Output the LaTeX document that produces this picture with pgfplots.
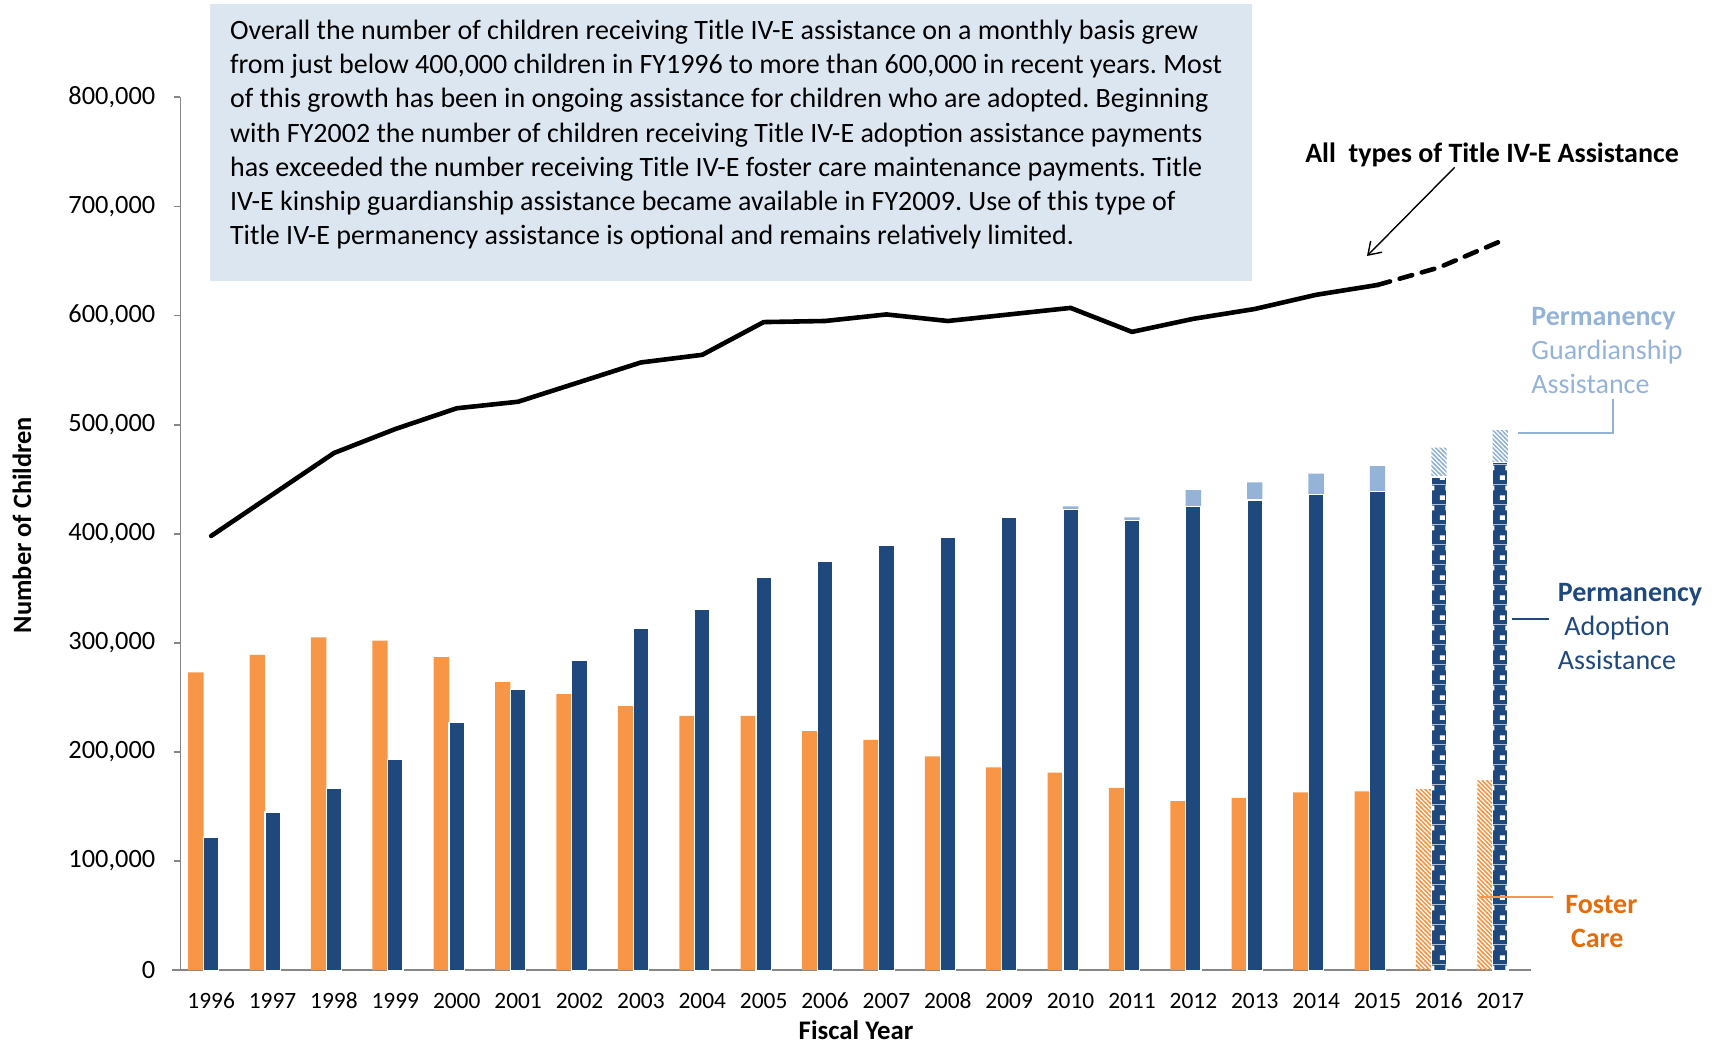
\documentclass[border=0pt]{standalone}
\usepackage{pgfplots}
\pgfplotsset{compat=1.18}
\usepackage{pgfplotstable}
\usepackage{fontspec}
\setmainfont{Carlito}
\frenchspacing
\usetikzlibrary{patterns,arrows.meta}
\definecolor{cOrange}{HTML}{F79646}
\definecolor{cOrangeTxt}{HTML}{E46C0A}
\definecolor{cDark}{HTML}{1F497D}
\definecolor{cLight}{HTML}{95B3D7}
\definecolor{cBox}{HTML}{DCE6F1}
\definecolor{cGray}{HTML}{868686}
% brick-like pattern of the projected adoption bars (tile width = bar width)
\pgfdeclarepatternformonly{adoptbricks}{\pgfqpoint{0pt}{0pt}}{\pgfqpoint{7.675pt}{10.1pt}}{\pgfqpoint{7.675pt}{10.1pt}}{%
  \pgfpathrectangle{\pgfqpoint{1.8pt}{7.6pt}}{\pgfqpoint{2.0pt}{2.5pt}}%
  \pgfpathrectangle{\pgfqpoint{6.6pt}{2.7pt}}{\pgfqpoint{1.075pt}{2.3pt}}%
  \pgfpathrectangle{\pgfqpoint{0pt}{2.7pt}}{\pgfqpoint{1.5pt}{2.3pt}}%
  \pgfpathrectangle{\pgfqpoint{0pt}{0pt}}{\pgfqpoint{7.675pt}{0.35pt}}%
  \pgfusepath{fill}}
\pgfdeclarepatternformonly{nwdense}{\pgfqpoint{-1pt}{-1pt}}{\pgfqpoint{3.2pt}{3.2pt}}{\pgfqpoint{2.2pt}{2.2pt}}{%
  \pgfsetlinewidth{0.75pt}%
  \pgfpathmoveto{\pgfqpoint{-0.3pt}{2.5pt}}\pgfpathlineto{\pgfqpoint{2.5pt}{-0.3pt}}%
  \pgfusepath{stroke}}
\pgfplotstableread{
x foster adopt total
0 273000 122000 398000
1 289000 145000 436000
2 305000 167000 474000
3 302000 193000 496000
4 287000 227000 515000
5 264000 257000 521000
6 253000 284000 539000
7 242000 313000 557000
8 233000 331000 564000
9 233000 360000 594000
10 219000 375000 595000
11 211000 389000 601000
12 196000 397000 595000
13 186000 415000 601000
14 181000 422000 607000
15 167000 412000 585000
16 155000 425000 597000
17 158000 431000 606000
18 163000 436000 619000
19 164000 439000 628000
}\mainT
\pgfplotstableread{
x foster adopt total
20 166000 452000 644000
21 174000 465000 668000
}\projB
\pgfplotstableread{
x total
19 628000
20 644000
21 668000
}\projL
\pgfplotstableread{
x adopt guard
14 422000 3000
15 412000 3000
16 425000 15000
17 431000 16000
18 436000 19000
19 439000 23000
}\guardT
\pgfplotstableread{
x adopt guard
20 452000 27000
21 465000 30000
}\guardP
\begin{document}
\begin{tikzpicture}
\useasboundingbox (0,0) rectangle (857.5pt,522.5pt);
\begin{axis}[
  at={(90.25pt,37.4pt)}, anchor=south west,
  scale only axis, width=675.25pt, height=436.45pt,
  xmin=-0.5, xmax=21.5, ymin=0, ymax=800000,
  axis lines*=left,
  axis line style={draw=cGray, line width=0.9pt},
  x axis line style={shorten <=-4pt},
  xtick={0,...,21},
  xticklabels={1996,1997,1998,1999,2000,2001,2002,2003,2004,2005,2006,2007,2008,2009,2010,2011,2012,2013,2014,2015,2016,2017},
  major x tick style={draw=none},
  ytick={0,100000,...,800000},
  scaled y ticks=false,
  tick align=outside,
  major tick length=3.4pt,
  major y tick style={draw=cGray, line width=0.9pt},
  /pgf/number format/.cd, fixed, 1000 sep={,}, assume math mode=true, /pgfplots/.cd,
  y tick label style={font=\fontsize{13.2}{15}\selectfont, inner sep=0pt, anchor=east, xshift=-9pt},
  x tick label style={font=\fontsize{11.7}{14}\selectfont, inner sep=0pt, anchor=base, yshift=-15.8pt},
  clip=false,
]
% foster care
\addplot[ybar, bar width=0.25, bar shift=0pt, fill=cOrange, draw=none] table[x expr=\thisrow{x}-0.25, y=foster] {\mainT};
\addplot[ybar, bar width=0.25, bar shift=0pt, draw=none, pattern=nwdense, pattern color=cOrange] table[x expr=\thisrow{x}-0.25, y=foster] {\projB};
% guardianship (stacked on top of adoption)
\addplot[ybar, bar width=0.25, bar shift=0pt, fill=cLight, draw=none] table[x=x, y expr=\thisrow{adopt}+\thisrow{guard}] {\guardT};
\addplot[ybar, bar width=0.25, bar shift=0pt, draw=none, pattern=nwdense, pattern color=cLight] table[x=x, y expr=\thisrow{adopt}+\thisrow{guard}] {\guardP};
% adoption
\addplot[ybar, bar width=0.25, bar shift=0pt, fill=cDark, draw=white, line width=0.6pt] table[x=x, y=adopt] {\mainT};
\addplot[ybar, bar width=0.25, bar shift=0pt, fill=cDark, draw=white, line width=0.6pt, postaction={pattern=adoptbricks, pattern color=white}] table[x=x, y=adopt] {\projB};
% total
\addplot[black, line width=2.3pt, line join=round, line cap=round] table[x=x, y=total] {\mainT};
\addplot[black, line width=2.3pt, line cap=round, dash pattern=on 6.5pt off 5pt] table[x=x, y=total] {\projL};
\end{axis}
\begin{scope}[shift={(0,522.5pt)}, x=0.5pt, y=-0.5pt]
\fill[cBox] (210,4.4) rectangle (1252,281);
\begin{scope}[every node/.style={anchor=base west, inner sep=0pt, font=\fontsize{14}{16}\selectfont}]
\node at (229.7,39.3) {Overall the number of children receiving Title IV-E assistance on a monthly basis grew};
\node at (229.7,73.6) {from just below 400,000 children in FY1996 to more than 600,000 in recent years. Most};
\node at (229.7,107.9) {of this growth has been in ongoing assistance for children who are adopted. Beginning};
\node at (229.7,142.1) {with FY2002 the number of children receiving Title IV-E adoption assistance payments};
\node at (229.7,176.4) {has exceeded the number receiving Title IV-E foster care maintenance payments. Title};
\node at (229.7,210.7) {IV-E kinship guardianship assistance became available in FY2009. Use of this type of};
\node at (229.7,245.0) {Title IV-E permanency assistance is optional and remains relatively limited.};
\end{scope}
\node[anchor=base, inner sep=0pt, font=\fontsize{14}{17}\selectfont\bfseries] at (1492,163) {All\ \ types of Title IV-E Assistance};
\draw[black, line width=0.7pt, -{Straight Barb[length=6pt, width=8pt]}] (1454.7,167.3) -- (1367,256);
\begin{scope}[every node/.style={anchor=base west, inner sep=0pt, font=\fontsize{14}{17}\selectfont}]
\node[text=cLight, font=\fontsize{14}{17}\selectfont\bfseries] at (1531,326) {Permanency};
\node[text=cLight] at (1531,360) {Guardianship};
\node[text=cLight] at (1531,394) {Assistance};
\node[text=cDark, font=\fontsize{14}{17}\selectfont\bfseries] at (1557.5,602) {Permanency};
\node[text=cDark] at (1564,636) {Adoption};
\node[text=cDark] at (1557.5,670) {Assistance};
\node[text=cOrangeTxt, font=\fontsize{14}{17}\selectfont\bfseries] at (1565,913.5) {Foster};
\node[text=cOrangeTxt, font=\fontsize{14}{17}\selectfont\bfseries] at (1570.6,947.4) {Care};
\end{scope}
\draw[cLight, line width=1pt] (1613,399) -- (1613,433) -- (1518,433);
\draw[cDark, line width=1pt] (1511.6,619) -- (1548.7,619);
\draw[cOrange, line width=1pt] (1478.8,897) -- (1553,897);
\node[rotate=90, inner sep=0pt, font=\fontsize{13.2}{15}\selectfont\bfseries] at (21.9,525) {Number of Children};
\node[anchor=base, inner sep=0pt, font=\fontsize{13.4}{15}\selectfont\bfseries] at (856,1040) {Fiscal Year};
\end{scope}
\end{tikzpicture}
\end{document}
